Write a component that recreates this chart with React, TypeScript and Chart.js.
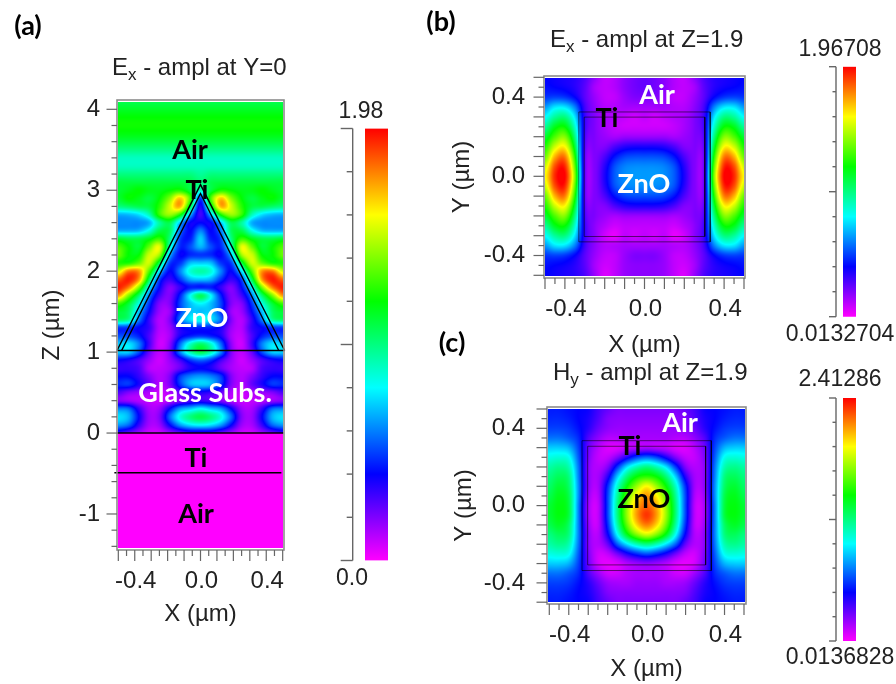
import React, { useEffect, useRef } from "react";
import { Chart, registerables } from "chart.js";
Chart.register(...registerables);

const SANS = "'Liberation Sans', Arial, sans-serif";
const BOLD = "Lato, 'Noto Sans', sans-serif";

// colour scale: position on the bar (0..1) -> rgb
const colorStops: [number, number[]][] = [
  [0, [255, 0, 255]], [0.2, [0, 0, 255]], [0.4, [0, 255, 255]],
  [0.6, [0, 255, 0]], [0.8, [255, 255, 0]], [1, [255, 0, 0]],
];

// field amplitudes, in percent of each panel's colour range
// panel (a): rows Z = 4.1 ... 0.0 (step 0.1), columns X = -0.5 ... 0.5
const fieldA = [
  [54,54,54,54,54,54,54,54,54,54,54,54,54,54,54,54,54],
  [57,57,57,57,57,57,57,57,57,57,57,57,57,57,57,57,57],
  [60,60,60,60,60,60,60,60,60,60,60,60,60,60,60,60,60],
  [61,61,61,61,61,61,61,61,61,61,61,61,61,61,61,61,61],
  [59,59,59,59,59,59,59,59,59,59,59,59,59,59,59,59,59],
  [55,55,55,55,55,55,55,55,55,55,55,55,55,55,55,55,55],
  [50,50,50,50,50,50,50,50,50,50,50,50,50,50,50,50,50],
  [45,45,45,45,45,45,45,45,45,45,45,45,45,45,45,45,45],
  [45,45,45,45,45,45,45,45,45,45,45,45,45,45,45,45,45],
  [50,50,50,50,50,50,50,50,48,50,50,50,50,50,50,50,50],
  [55,55,55,55,55,55,55,54,50,54,55,55,55,55,55,55,55],
  [56,58,60,58,58,60,62,55,45,55,62,60,58,58,60,58,56],
  [56,60,58,55,60,70,84,65,25,65,84,70,60,55,58,60,56],
  [50,52,54,55,63,76,86,55,18,55,86,76,63,55,54,52,50],
  [34,35,38,46,64,72,62,35,15,35,62,72,64,46,38,35,34],
  [31,31,31,34,48,54,36,20,20,20,36,54,48,34,31,31,31],
  [34,34,35,42,54,53,30,20,30,20,30,53,54,42,35,34,34],
  [56,54,54,58,64,50,25,22,36,22,25,50,64,58,54,54,56],
  [66,60,56,68,78,45,23,26,34,26,23,45,78,68,56,60,66],
  [68,60,60,76,72,35,20,23,24,23,20,35,72,76,60,60,68],
  [62,62,68,76,54,25,24,35,36,35,24,25,54,76,68,62,62],
  [76,90,88,66,38,20,30,43,47,43,30,20,38,66,88,90,76],
  [92,98,88,54,25,16,24,34,36,34,24,16,25,54,88,98,92],
  [98,90,70,40,20,10,16,22,22,22,16,10,20,40,70,90,98],
  [88,70,52,30,15,10,22,40,53,40,22,10,15,30,52,70,88],
  [65,56,42,24,10,10,25,35,40,35,25,10,10,24,42,56,65],
  [56,52,35,20,8,8,24,35,35,35,24,8,8,20,35,52,56],
  [52,48,30,16,6,10,28,38,42,38,28,10,6,16,30,48,52],
  [24,24,20,16,6,8,18,22,22,22,18,8,6,16,20,24,24],
  [26,26,22,14,5,7,18,22,24,22,18,7,5,14,22,26,26],
  [36,38,30,15,4,9,28,44,52,44,28,9,4,15,30,38,36],
  [36,36,26,12,5,10,30,46,54,46,30,10,5,12,26,36,36],
  [20,18,14,8,4,8,15,24,28,24,15,8,4,8,14,18,20],
  [16,16,14,6,5,7,12,18,20,18,12,7,5,6,14,16,16],
  [20,20,16,10,6,10,24,30,32,30,24,10,6,10,16,20,20],
  [23,24,18,12,6,10,24,34,36,34,24,10,6,12,18,24,23],
  [14,10,8,6,4,6,12,16,18,16,12,6,4,6,8,10,14],
  [10,8,6,5,4,6,10,14,16,14,10,6,4,5,6,8,10],
  [30,28,16,7,8,20,32,36,40,36,32,20,8,7,16,28,30],
  [38,34,20,8,10,28,42,50,54,50,42,28,10,8,20,34,38],
  [32,28,16,7,8,20,32,38,40,38,32,20,8,7,16,28,32],
  [16,12,8,4,4,8,12,16,16,16,12,8,4,4,8,12,16],
];

// panel (b): rows Y = 0.5 ... -0.5, columns X = -0.5 ... 0.5 (step 0.05)
const fieldB = [
  [20,19,18,17,14,9,5,6,9,11,12,11,9,6,5,9,14,17,18,19,20],
  [21,20,19,17,13,7,5,6,9,11,12,11,9,6,5,7,13,17,19,20,21],
  [24,25,24,20,13,8,5,5,8,10,10,10,8,5,5,8,13,20,24,25,24],
  [32,38,38,30,15,9,6,6,7,7,7,7,7,6,6,9,15,30,38,38,32],
  [40,48,50,38,16,10,7,6,5,4,5,4,5,6,7,10,16,38,50,48,40],
  [48,58,60,44,16,10,7,5,4,4,4,4,4,5,7,10,16,44,60,58,48],
  [56,66,70,50,15,10,8,7,8,8,8,8,8,7,8,10,15,50,70,66,56],
  [62,76,80,56,14,10,10,14,17,18,18,18,17,14,10,10,14,56,80,76,62],
  [68,86,90,62,13,10,14,21,25,26,26,26,25,21,14,10,13,62,90,86,68],
  [76,94,97,67,13,10,17,26,30,31,31,31,30,26,17,10,13,67,97,94,76],
  [80,97,100,70,13,10,18,27,31,32,32,32,31,27,18,10,13,70,100,97,80],
  [76,94,97,67,13,10,17,26,30,31,31,31,30,26,17,10,13,67,97,94,76],
  [68,86,90,62,13,10,14,21,25,26,26,26,25,21,14,10,13,62,90,86,68],
  [62,76,80,56,14,10,10,14,17,18,18,18,17,14,10,10,14,56,80,76,62],
  [56,66,70,50,15,10,8,7,8,8,8,8,8,7,8,10,15,50,70,66,56],
  [48,58,60,44,16,9,6,4,5,5,5,5,5,4,6,9,16,44,60,58,48],
  [40,48,50,38,16,9,4,2,5,4,5,4,5,2,4,9,16,38,50,48,40],
  [32,38,38,30,15,9,6,6,7,7,7,7,7,6,6,9,15,30,38,38,32],
  [24,25,24,20,13,8,5,5,8,10,10,10,8,5,5,8,13,20,24,25,24],
  [21,20,19,17,13,7,4,5,8,9,9,9,8,5,4,7,13,17,19,20,21],
  [20,19,18,17,14,8,3,5,8,9,9,9,8,5,3,8,14,17,18,19,20],
];

// panel (c): rows Y = 0.5 ... -0.5, columns X = -0.5 ... 0.5 (step 0.05)
const fieldC = [
  [22,22,21,20,19,15,12,10,10,10,10,10,10,10,12,15,19,20,21,22,22],
  [23,23,22,20,18,14,10,9,9,9,9,9,9,9,10,14,18,20,22,23,23],
  [25,25,24,21,17,12,9,8,8,8,8,8,8,8,9,12,17,21,24,25,25],
  [29,29,27,23,14,9,6,6,7,7,7,7,7,6,6,9,14,23,27,29,29],
  [36,36,34,25,12,6,3,3,5,6,7,6,5,3,3,6,12,25,34,36,36],
  [42,43,41,27,11,5,5,10,18,25,28,25,18,10,5,5,11,27,41,43,42],
  [47,49,46,29,10,6,10,24,38,46,50,46,38,24,10,6,10,29,46,49,47],
  [50,53,50,30,10,7,17,36,51,60,63,60,51,36,17,7,10,30,50,53,50],
  [52,56,52,31,10,7,23,44,60,72,80,72,60,44,23,7,10,31,52,56,52],
  [54,58,54,31,9,6,25,48,67,81,88,81,67,48,25,6,9,31,54,58,54],
  [56,59,55,30,8,5,25,50,71,86,92,86,71,50,25,5,8,30,55,59,56],
  [56,59,55,30,8,5,25,50,72,88,96,88,72,50,25,5,8,30,55,59,56],
  [54,57,52,30,9,5,23,47,68,83,90,83,68,47,23,5,9,30,52,57,54],
  [50,53,50,30,10,6,19,40,58,70,76,70,58,40,19,6,10,30,50,53,50],
  [47,49,46,29,10,6,12,27,38,46,50,46,38,27,12,6,10,29,46,49,47],
  [42,43,41,27,11,4,5,11,18,23,26,23,18,11,5,4,11,27,41,43,42],
  [36,36,34,25,12,4,2,3,6,8,9,8,6,3,2,4,12,25,34,36,36],
  [29,29,27,23,14,8,4,4,6,7,7,7,6,4,4,8,14,23,27,29,29],
  [25,25,24,21,17,12,8,7,7,8,8,8,7,7,8,12,17,21,24,25,25],
  [23,23,22,20,18,14,10,9,9,9,9,9,9,9,10,14,18,20,22,23,23],
  [22,22,21,20,19,15,12,10,10,10,10,10,10,10,12,15,19,20,21,22,22],
];

// structure outlines
const triangleOuter = [{ x: -0.508, y: 1.02 }, { x: 0, y: 3.07 }, { x: 0.512, y: 1.02 }];
const triangleInner = [{ x: -0.48, y: 1.02 }, { x: 0, y: 2.96 }, { x: 0.476, y: 1.02 }];
const lineBase = [{ x: -0.508, y: 1.02 }, { x: 0.512, y: 1.02 }];
const lineGlassTop = [{ x: -0.508, y: 0 }, { x: 0.505, y: 0 }];
const lineTiBottom = [{ x: -0.524, y: -0.49 }, { x: 0.492, y: -0.49 }];
const rectOuterB = [{ x: -0.33, y: 0.325 }, { x: 0.33, y: 0.325 }, { x: 0.33, y: -0.331 }, { x: -0.33, y: -0.331 }, { x: -0.33, y: 0.325 }];
const rectInnerB = [{ x: -0.303, y: 0.299 }, { x: 0.303, y: 0.299 }, { x: 0.303, y: -0.304 }, { x: -0.303, y: -0.304 }, { x: -0.303, y: 0.299 }];
const rectOuterC = [{ x: -0.332, y: 0.336 }, { x: 0.332, y: 0.336 }, { x: 0.332, y: -0.336 }, { x: -0.332, y: -0.336 }, { x: -0.332, y: 0.336 }];
const rectInnerC = [{ x: -0.303, y: 0.307 }, { x: 0.303, y: 0.307 }, { x: 0.303, y: -0.307 }, { x: -0.303, y: -0.307 }, { x: -0.303, y: 0.307 }];

// tick lists
const xLabels = [-0.4, 0, 0.4];
const xLong = [-0.5, -0.4, -0.3, -0.2, -0.1, 0, 0.1, 0.2, 0.3, 0.4, 0.5];
const xShort = [-0.45, -0.35, -0.25, -0.15, -0.05, 0.05, 0.15, 0.25, 0.35, 0.45];
const zLabels = [4, 3, 2, 1, 0, -1];
const zShort = [3.8, 3.6, 3.4, 3.2, 2.8, 2.6, 2.4, 2.2, 1.8, 1.6, 1.4, 1.2, 0.8, 0.6, 0.4, 0.2, -0.2, -0.4, -0.6, -0.8, -1.2, -1.4];
const yLabels = [0.4, 0, -0.4];

// colour-bar ranges and ticks
const barA = { min: 0, max: 1.98, top: "1.98", bottom: "0.0" };
const barB = { min: 0.0132704, max: 1.96708, top: "1.96708", bottom: "0.0132704" };
const barC = { min: 0.0136828, max: 2.41286, top: "2.41286", bottom: "0.0136828" };
const barLevels = [0, 0.1, 0.2, 0.3, 0.4, 0.5, 0.6, 0.7, 0.8, 0.9, 1];
const barLongLevels = [0, 0.5, 1];

type Txt = { t: string; x: number; y: number; c: string };
const colourAt = (p: number) => {
  const t = Math.max(0, Math.min(1, p));
  for (let i = 1; i < colorStops.length; i++) {
    if (t <= colorStops[i][0]) {
      const [a, ca] = colorStops[i - 1];
      const [b, cb] = colorStops[i];
      const f = (t - a) / (b - a);
      return ca.map((v, k) => v + (cb[k] - v) * f);
    }
  }
  return colorStops[colorStops.length - 1][1];
};

const cr = (a: number, b: number, c: number, d: number, t: number) =>
  b + 0.5 * t * (c - a + t * (2 * a - 5 * b + 4 * c - d + t * (3 * (b - c) + d - a)));

const sample = (rows: number[][], fx: number, fy: number) => {
  const nr = rows.length, nc = rows[0].length;
  fx = Math.max(0, Math.min(nc - 1, fx));
  fy = Math.max(0, Math.min(nr - 1, fy));
  const ix = Math.min(nc - 2, Math.floor(fx)), iy = Math.min(nr - 2, Math.floor(fy));
  const tx = fx - ix, ty = fy - iy;
  const col: number[] = [];
  for (let j = -1; j <= 2; j++) {
    const r = rows[Math.max(0, Math.min(nr - 1, iy + j))];
    col.push(cr(r[Math.max(0, ix - 1)], r[ix], r[ix + 1], r[Math.min(nc - 1, ix + 2)], tx));
  }
  return cr(col[0], col[1], col[2], col[3], ty);
};

const drawSubTitle = (ctx: any, x: number, y: number, main: string, sub: string, rest: string) => {
  ctx.save();
  ctx.fillStyle = "#222";
  ctx.textAlign = "left";
  ctx.textBaseline = "alphabetic";
  ctx.font = `24px ${SANS}`;
  ctx.fillText(main, x, y);
  let cx = x + ctx.measureText(main).width;
  ctx.font = `17px ${SANS}`;
  ctx.fillText(sub, cx, y + 5);
  cx += ctx.measureText(sub).width;
  ctx.font = `24px ${SANS}`;
  ctx.fillText(rest, cx, y);
  ctx.restore();
};

const panels = [
  {
    key: "a", rows: fieldA, area: { l: 117, r: 284, t: 100, b: 550 },
    xr: [-0.508, 0.508], yr: [-1.445, 4.115], gx: [-0.5, 0.5], gy: [4.1, 0], floorBelow: 0,
    W: 79, H: 79, yPad: 17, xTitle: "X (\u00b5m)", yTitle: "Z (\u00b5m)",
    yTicks: zLabels, yLong: zLabels, yShort: zShort, yFmt: (v: number) => String(v),
    outlines: [
      { data: triangleOuter, w: 1.4, c: "#000" }, { data: triangleInner, w: 1.4, c: "#000" },
      { data: lineBase, w: 1.4, c: "#000" }, { data: lineGlassTop, w: 1.4, c: "#000" }, { data: lineTiBottom, w: 1.4, c: "#000" },
    ],
    labels: [
      { t: "Air", x: 190, y: 150, c: "#000" }, { t: "Ti", x: 197, y: 190, c: "#000" }, { t: "ZnO", x: 202, y: 318, c: "#fff" },
      { t: "Glass Subs.", x: 205, y: 393, c: "#fff" }, { t: "Ti", x: 196, y: 458, c: "#000" }, { t: "Air", x: 196, y: 514, c: "#000" },
      { t: "(a)", x: 28, y: 26, c: "#000" },
    ] as Txt[],
    title: { x: 112, y: 75, main: "E", sub: "x", rest: " - ampl at Y=0" },
  },
  {
    key: "b", rows: fieldB, area: { l: 544, r: 745, t: 76, b: 278 },
    xr: [-0.505, 0.505], yr: [-0.5136, 0.5066], gx: [-0.5, 0.5], gy: [0.5, -0.5], floorBelow: null,
    W: 96, H: 82, yPad: 19, xTitle: "X (\u00b5m)", yTitle: "Y (\u00b5m)",
    yTicks: yLabels, yLong: xLong, yShort: xShort, yFmt: (v: number) => v.toFixed(1),
    outlines: [{ data: rectOuterB, w: 1, c: "rgba(0,0,0,0.55)" }, { data: rectInnerB, w: 1, c: "rgba(0,0,0,0.55)" }],
    labels: [
      { t: "Air", x: 657, y: 95, c: "#fff" }, { t: "Ti", x: 607, y: 118, c: "#000" }, { t: "ZnO", x: 644, y: 184, c: "#fff" },
      { t: "(b)", x: 441, y: 22, c: "#000" },
    ] as Txt[],
    title: { x: 550, y: 47, main: "E", sub: "x", rest: " - ampl at Z=1.9" },
  },
  {
    key: "c", rows: fieldC, area: { l: 547, r: 746, t: 407, b: 604 },
    xr: [-0.5118, 0.5103], yr: [-0.5093, 0.5103], gx: [-0.5, 0.5], gy: [0.5, -0.5], floorBelow: null,
    W: 97, H: 80, yPad: 22, xTitle: "X (\u00b5m)", yTitle: "Y (\u00b5m)",
    yTicks: yLabels, yLong: xLong, yShort: xShort, yFmt: (v: number) => v.toFixed(1),
    outlines: [{ data: rectOuterC, w: 1, c: "rgba(0,0,0,0.55)" }, { data: rectInnerC, w: 1, c: "rgba(0,0,0,0.55)" }],
    labels: [
      { t: "Air", x: 680, y: 423, c: "#fff" }, { t: "Ti", x: 630, y: 446, c: "#000" }, { t: "ZnO", x: 644, y: 499, c: "#000" },
      { t: "(c)", x: 452, y: 343, c: "#000" },
    ] as Txt[],
    title: { x: 553, y: 380, main: "H", sub: "y", rest: " - ampl at Z=1.9" },
  },
];

const bars = [
  { ...barA, area: { l: 365, r: 388, t: 128.5, b: 560.5 }, axisX: 352.7, long: 12, short: 6, cx: 361, topY: 112, cx2: 352, botY: 579 },
  { ...barB, area: { l: 843, r: 856, t: 66.7, b: 316.7 }, axisX: 836, long: 7, short: 3.5, cx: 840, topY: 50, cx2: 840, botY: 335 },
  { ...barC, area: { l: 843, r: 856, t: 398, b: 641 }, axisX: 836, long: 7, short: 3.5, cx: 840, topY: 380, cx2: 840, botY: 658 },
];

const pageSize = { w: 896, h: 684 };

function panelConfig(p: any) {
  const nr = p.rows.length, nc = p.rows[0].length;
  const plugin = {
    id: "heat" + p.key,
    beforeDatasetsDraw(chart: any) {
      const { x: xs, y: ys } = chart.scales;
      const L = p.area.l + 1, T = p.area.t + 2, R = p.area.r - 1, B = p.area.b - 2;
      const w = R - L, h = B - T;
      const off = document.createElement("canvas");
      off.width = w; off.height = h;
      const oc = off.getContext("2d")!;
      const img = oc.createImageData(w, h);
      for (let j = 0; j < h; j++) {
        const yv = ys.getValueForPixel(T + j + 0.5);
        for (let i = 0; i < w; i++) {
          const xv = xs.getValueForPixel(L + i + 0.5);
          const fx = ((xv - p.gx[0]) / (p.gx[1] - p.gx[0])) * (nc - 1);
          const fy = ((yv - p.gy[0]) / (p.gy[1] - p.gy[0])) * (nr - 1);
          const v = p.floorBelow !== null && yv < p.gy[1] ? p.floorBelow : sample(p.rows, fx, fy);
          const c = colourAt(v / 100);
          const k = (j * w + i) * 4;
          img.data[k] = c[0]; img.data[k + 1] = c[1]; img.data[k + 2] = c[2]; img.data[k + 3] = 255;
        }
      }
      oc.putImageData(img, 0, 0);
      chart.ctx.drawImage(off, L, T);
    },
    afterDatasetsDraw(chart: any) {
      const { ctx } = chart;
      const { x: xs, y: ys } = chart.scales;
      ctx.save();
      ctx.strokeStyle = "#8c8c8c";
      ctx.lineWidth = 1.6;
      ctx.strokeRect(p.area.l, p.area.t, p.area.r - p.area.l, p.area.b - p.area.t);
      ctx.strokeStyle = "#666";
      ctx.lineWidth = 1.2;
      const tick = (x0: number, y0: number, x1: number, y1: number) => {
        ctx.beginPath(); ctx.moveTo(x0, y0); ctx.lineTo(x1, y1); ctx.stroke();
      };
      xLong.forEach((v) => { const px = xs.getPixelForValue(v); tick(px, p.area.b, px, p.area.b + 11); });
      xShort.forEach((v) => { const px = xs.getPixelForValue(v); tick(px, p.area.b, px, p.area.b + 6); });
      p.yLong.forEach((v: number) => { const py = ys.getPixelForValue(v); tick(p.area.l, py, p.area.l - 10.5, py); });
      p.yShort.forEach((v: number) => { const py = ys.getPixelForValue(v); tick(p.area.l, py, p.area.l - 5.5, py); });
      ctx.textAlign = "center";
      ctx.textBaseline = "middle";
      p.labels.forEach((t: Txt) => {
        ctx.font = `bold 27px ${BOLD}`;
        ctx.fillStyle = t.c;
        ctx.fillText(t.t, t.x, t.y);
      });
      ctx.restore();
      drawSubTitle(ctx, p.title.x, p.title.y, p.title.main, p.title.sub, p.title.rest);
    },
  };
  const cells: any[] = [];
  p.rows.forEach((r: number[], j: number) => r.forEach((v: number, i: number) => {
    cells.push({
      x: p.gx[0] + ((p.gx[1] - p.gx[0]) * i) / (nc - 1),
      y: p.gy[0] + ((p.gy[1] - p.gy[0]) * j) / (nr - 1), v,
    });
  }));
  const font = { family: SANS, size: 24 };
  return {
    type: "scatter",
    data: {
      datasets: [
        { label: "field", data: cells, pointRadius: 0, showLine: false },
        ...p.outlines.map((o: any, i: number) => ({
          label: "outline " + i, data: o.data, showLine: true, pointRadius: 0,
          borderColor: o.c, borderWidth: o.w, clip: false, tension: 0,
        })),
      ],
    },
    options: {
      responsive: false, animation: false, events: [],
      layout: {
        padding: {
          left: p.area.l - p.W, right: pageSize.w - p.area.r,
          top: p.area.t, bottom: pageSize.h - p.area.b - p.H,
        },
      },
      plugins: { legend: { display: false }, tooltip: { enabled: false }, title: { display: false } },
      scales: {
        x: {
          type: "linear", min: p.xr[0], max: p.xr[1],
          grid: { display: false, drawTicks: false }, border: { display: false },
          afterBuildTicks: (s: any) => { s.ticks = xLabels.map((value) => ({ value })); },
          afterFit: (s: any) => { s.height = p.H; s.paddingLeft = 0; s.paddingRight = 0; },
          ticks: {
            color: "#222", font, padding: 17, labelOffset: 1, autoSkip: false, maxRotation: 0,
            callback: (v: number) => v.toFixed(1),
          },
          title: { display: true, text: p.xTitle, color: "#222", font, padding: 0 },
        },
        y: {
          type: "linear", min: p.yr[0], max: p.yr[1],
          grid: { display: false, drawTicks: false }, border: { display: false },
          afterBuildTicks: (s: any) => { s.ticks = p.yTicks.map((value: number) => ({ value })); },
          afterFit: (s: any) => { s.width = p.W; s.paddingTop = 0; s.paddingBottom = 0; },
          ticks: {
            color: "#222", font, padding: p.yPad, autoSkip: false,
            callback: (v: number) => p.yFmt(v),
          },
          title: { display: true, text: p.yTitle, color: "#222", font, padding: 0 },
        },
      },
    },
    plugins: [plugin],
  };
}

function barConfig(b: any) {
  const plugin = {
    id: "barAxis",
    afterDatasetsDraw(chart: any) {
      const { ctx } = chart;
      const ys = chart.scales.y;
      ctx.save();
      ctx.strokeStyle = "#666";
      ctx.lineWidth = 1.4;
      ctx.beginPath();
      ctx.moveTo(b.axisX, b.area.t); ctx.lineTo(b.axisX, b.area.b); ctx.stroke();
      barLevels.forEach((lv) => {
        const py = ys.getPixelForValue(b.min + (b.max - b.min) * lv);
        const len = barLongLevels.includes(lv) ? b.long : b.short;
        ctx.beginPath(); ctx.moveTo(b.axisX, py); ctx.lineTo(b.axisX - len, py); ctx.stroke();
      });
      ctx.fillStyle = "#222";
      ctx.font = `23px ${SANS}`;
      ctx.textAlign = "center";
      ctx.textBaseline = "middle";
      ctx.fillText(b.top, b.cx, b.topY);
      ctx.fillText(b.bottom, b.cx2, b.botY);
      ctx.restore();
    },
  };
  return {
    type: "bar",
    data: {
      labels: ["scale"],
      datasets: [{
        label: "colour scale",
        data: [[b.min, b.max]],
        barPercentage: 1, categoryPercentage: 1, borderWidth: 0,
        backgroundColor: (c: any) => {
          const a = c.chart.chartArea;
          if (!a) return "#fff";
          const g = c.chart.ctx.createLinearGradient(0, a.bottom, 0, a.top);
          colorStops.forEach(([pos, rgb]) => g.addColorStop(pos, `rgb(${rgb.join(",")})`));
          return g;
        },
      }],
    },
    options: {
      responsive: false, animation: false, events: [],
      layout: { padding: { left: b.area.l, right: pageSize.w - b.area.r, top: b.area.t, bottom: pageSize.h - b.area.b } },
      plugins: { legend: { display: false }, tooltip: { enabled: false } },
      scales: {
        x: { display: false },
        y: { display: false, min: b.min, max: b.max },
      },
    },
    plugins: [plugin],
  };
}

const configs = () => [...panels.map(panelConfig), ...bars.map(barConfig)];

export default function App() {
  const holder = useRef<HTMLDivElement>(null);
  useEffect(() => {
    document.body.style.background = "#fff";
    const charts: Chart[] = [];
    const nodes: HTMLCanvasElement[] = [];
    configs().forEach((cfg: any) => {
      const cv = document.createElement("canvas");
      cv.width = pageSize.w; cv.height = pageSize.h;
      cv.style.cssText = `position:absolute;left:0;top:0;width:${pageSize.w}px;height:${pageSize.h}px`;
      holder.current!.appendChild(cv);
      nodes.push(cv);
      charts.push(new Chart(cv, cfg));
    });
    return () => { charts.forEach((c) => c.destroy()); nodes.forEach((n) => n.remove()); };
  }, []);
  return <div ref={holder} />;
}
